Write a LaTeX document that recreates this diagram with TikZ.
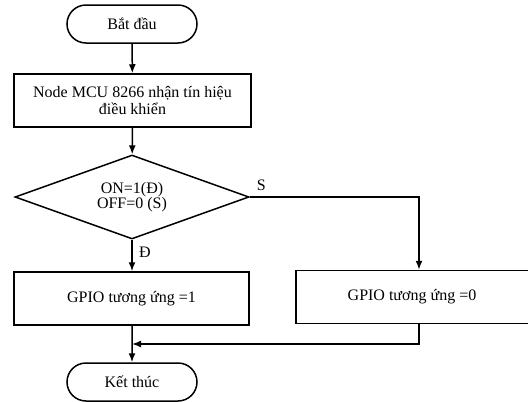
\documentclass[tikz,border=0pt]{standalone}
\usepackage{fontspec}
\setmainfont{Liberation Serif}
\usetikzlibrary{shapes,arrows.meta}

\begin{document}
\begin{tikzpicture}[x=1pt,y=-1pt]
    \tikzstyle{every node}=[font=\fontsize{16}{17}\selectfont]
    \tikzstyle{terminal}=[rounded rectangle, draw, line width=1.5pt, minimum width=130pt, minimum height=38pt, inner sep=0pt]
    \tikzstyle{process}=[rectangle, draw, line width=1.5pt, minimum height=53pt, inner sep=0pt, align=center]
    \tikzstyle{decision}=[diamond, draw, line width=1.5pt, shape aspect=2.8, minimum width=234pt, minimum height=84pt, inner sep=0pt, align=center, font=\fontsize{16}{15}\selectfont]
    \tikzstyle{flow}=[line width=1.5pt, -{Latex[length=9pt,width=7pt]}]
    \useasboundingbox (0,0) rectangle (528,402);

    \node[terminal] (start) at (132,24) {Bắt đầu};
    \node[process, minimum width=237pt] (recv) at (132.5,100.5) {Node MCU 8266 nhận tín hiệu\\điều khiển};
    \node[decision] (check) at (132,197) {ON=1(Đ)\\OFF=0 (S)};
    \node[process, minimum width=235pt] (on) at (131.5,298.5) {GPIO tương ứng =1};
    \node[process, minimum width=246pt] (off) at (419,297) {\hspace*{-14pt}GPIO tương ứng =0};
    \node[terminal] (stop) at (132,382) {Kết thúc};
    \coordinate (merge) at (132,344);

    \draw[flow] (start) -- (recv);
    \draw[flow] (recv) -- (check);
    \draw[flow] (check.south) -- node[right=3pt, pos=0.4] (yes) {Đ} (on.north -| check.south);
    \draw[flow] (check.east) -- node[anchor=south west, xshift=3pt, yshift=2pt, pos=0] (no) {S} (check.east -| off.north) -- (off.north);
    \draw[flow] (on.south -| merge) -- (stop);
    \draw[flow] (off.south) |- (merge);
\end{tikzpicture}
\end{document}
